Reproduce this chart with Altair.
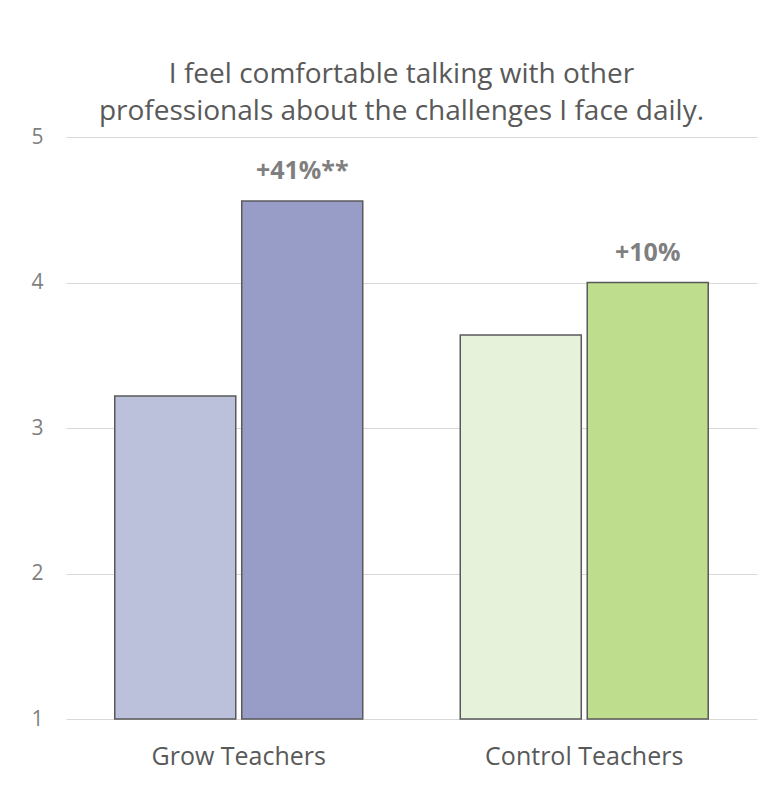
import altair as alt
import pandas as pd

groups = ["Grow Teachers", "Grow Teachers", "Control Teachers", "Control Teachers"]
periods = ["Pre", "Post", "Pre", "Post"]
keys = ["Grow Pre", "Grow Post", "Control Pre", "Control Post"]
values = [3.22, 4.56, 3.64, 4.00]
labels = ["", "+41%**", "", "+10%"]
bar_colors = ["#BBC0DB", "#989DC8", "#E6F3DA", "#BEDD8D"]
title_lines = ["I feel comfortable talking with other",
               "professionals about the challenges I face daily."]

df = pd.DataFrame({"group": groups, "period": periods, "key": keys,
                   "value": values, "label": labels})

FONT = "Open Sans"

x = alt.X("group:N", sort=["Grow Teachers", "Control Teachers"],
          scale=alt.Scale(paddingInner=0, paddingOuter=0),
          axis=alt.Axis(title=None, labelAngle=0, ticks=False, domain=False, grid=False,
                        labelFontSize=25, labelColor="#595959", labelFont=FONT,
                        labelPadding=45, labelBaseline="alphabetic", labelLimit=0))
xo = alt.XOffset("period:N", sort=["Pre", "Post"],
                 scale=alt.Scale(paddingInner=0.047, paddingOuter=0.384))
y = alt.Y("value:Q", scale=alt.Scale(domain=[1, 5], zero=False, nice=False),
          axis=alt.Axis(title=None, values=[1, 2, 3, 4, 5], ticks=False, domain=False,
                        labelFontSize=21, labelColor="#7F7F7F", labelFont=FONT,
                        labelPadding=23, gridColor="#D9D9D9", gridWidth=1))

bars = alt.Chart(df).mark_bar(stroke="#595959", strokeWidth=1.5).encode(
    x=x, xOffset=xo, y=y, y2=alt.datum(1),
    color=alt.Color("key:N", scale=alt.Scale(domain=keys, range=bar_colors), legend=None),
)

text = alt.Chart(df).mark_text(fontSize=25, fontWeight="bold", color="#7F7F7F",
                               font=FONT, baseline="alphabetic", dy=-22).encode(
    x=x, xOffset=xo, y=y, text="label:N"
)

chart = alt.layer(bars, text).properties(
    width=691, height=582,
    background="white",
    title=alt.TitleParams(title_lines, fontSize=28, font=FONT, fontWeight="normal",
                          color="#595959", anchor="middle", dx=-10, offset=0,
                          lineHeight=37),
    padding={"left": 58, "top": 129, "right": 4, "bottom": 62},
    autosize=alt.AutoSizeParams(type="none"),
).configure_view(stroke=None, strokeWidth=0)

chart.save("out.html", embed_options={"renderer": "svg", "actions": False})
